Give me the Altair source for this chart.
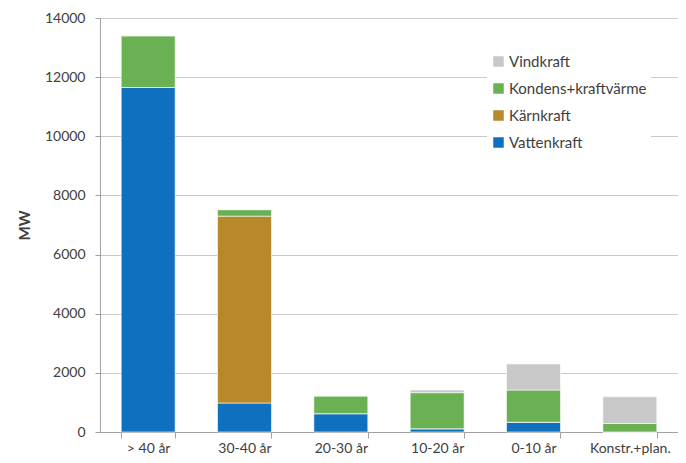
import altair as alt
import pandas as pd

categories = ["> 40 år", "30-40 år", "20-30 år", "10-20 år", "0-10 år", "Konstr.+plan."]
series = ["Vattenkraft", "Kärnkraft", "Kondens+kraftvärme", "Vindkraft"]
vatten = [11650, 980, 620, 110, 330, 0]
karn = [0, 6320, 0, 0, 0, 0]
kondens = [1750, 220, 600, 1220, 1090, 290]
vind = [0, 0, 0, 90, 880, 900]
colors = ["#0E70BE", "#B8892A", "#6AB153", "#C8C8C8"]

rows = []
for i, c in enumerate(categories):
    for j, (s, vals) in enumerate(zip(series, [vatten, karn, kondens, vind])):
        rows.append({"cat": c, "serie": s, "MW": vals[i], "ord": j})
df = pd.DataFrame(rows)

font = "Lato"
chart = alt.Chart(df).mark_bar(stroke="white", strokeWidth=0.6).encode(
    x=alt.X("cat:N", sort=categories, title=None,
            scale=alt.Scale(paddingInner=0.44, paddingOuter=0.22),
            axis=alt.Axis(tickBand="extent", labelAngle=0, labelFont=font, labelFontSize=14,
                          labelColor="#404040", domainColor="#A0A0A0", tickColor="#A0A0A0",
                          tickSize=6, labelPadding=3)),
    y=alt.Y("MW:Q", title="MW",
            scale=alt.Scale(domain=[0, 14000]),
            axis=alt.Axis(values=list(range(0, 14001, 2000)), format="d", labelFont=font, labelFontSize=14,
                          labelColor="#404040", domainColor="#A0A0A0", tickColor="#A0A0A0",
                          gridColor="#C8C8C8", tickSize=5, titleFont=font, titleFontSize=15,
                          titleFontWeight="bold", titleColor="#404040", titlePadding=12, labelPadding=10)),
    color=alt.Color("serie:N", scale=alt.Scale(domain=series, range=colors),
                    legend=alt.Legend(title=None, orient="none", legendX=387, legendY=32,
                                      values=series[::-1], symbolType="square", symbolSize=110,
                                      symbolStrokeWidth=0, labelFont=font, labelFontSize=15,
                                      labelColor="#404040", rowPadding=11, fillColor="white",
                                      padding=4, labelOffset=3)),
    order=alt.Order("ord:Q"),
).properties(
    width=578, height=414,
    autosize=alt.AutoSizeParams(type="none"),
    padding={"left": 92, "top": 10, "right": 0, "bottom": 31},
).configure_view(stroke=None)

chart.save("out.html", embed_options={"renderer": "svg", "actions": False})
